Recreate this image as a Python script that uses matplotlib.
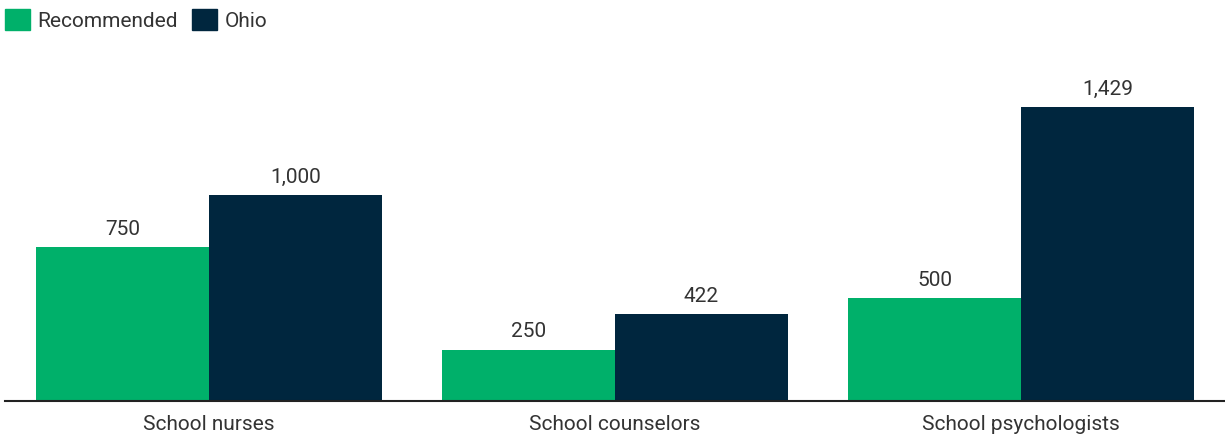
import numpy as np
import matplotlib.pyplot as plt
from matplotlib.patches import Patch

# students per staff member
categories = ["School nurses", "School counselors", "School psychologists"]
recommended = [750, 250, 500]
ohio = [1000, 422, 1429]

GREEN = "#00b06a"
NAVY = "#00263e"
TEXT = "#333333"

plt.rcParams["font.family"] = ["Roboto", "DejaVu Sans"]

fig = plt.figure(figsize=(12.25, 4.36), dpi=100)
ax = fig.add_axes([5 / 1225, 1 - 401 / 436, 1220 / 1225, 341 / 436])

x = np.arange(len(categories))
w = 0.426
b1 = ax.bar(x - w / 2, recommended, w, color=GREEN, label="Recommended")
b2 = ax.bar(x + w / 2, ohio, w, color=NAVY, label="Ohio")

for bars in (b1, b2):
    ax.bar_label(bars, labels=[f"{v:,}" for v in bars.datavalues],
                 padding=6, fontsize=15, color=TEXT)

ax.set_xlim(-0.502, 2.502)
ax.set_ylim(0, 1659)
ax.set_xticks(x)
ax.set_xticklabels(categories, fontsize=15, color=TEXT)
ax.tick_params(axis="x", length=0, pad=10)
ax.set_yticks([])
for s in ("top", "right", "left"):
    ax.spines[s].set_visible(False)
ax.spines["bottom"].set_color("#222222")
ax.spines["bottom"].set_linewidth(1.5)

handles = [Patch(color=GREEN), Patch(color=NAVY)]
fig.legend(handles, ["Recommended", "Ohio"], loc="upper left",
           bbox_to_anchor=(5 / 1225, 1 - 9 / 436), frameon=False, ncol=2,
           fontsize=15, handlelength=1.2, handleheight=1.2,
           handletextpad=0.33, columnspacing=0.72, borderpad=0,
           borderaxespad=0, labelcolor=TEXT)

fig.savefig("out.png", dpi=100)
